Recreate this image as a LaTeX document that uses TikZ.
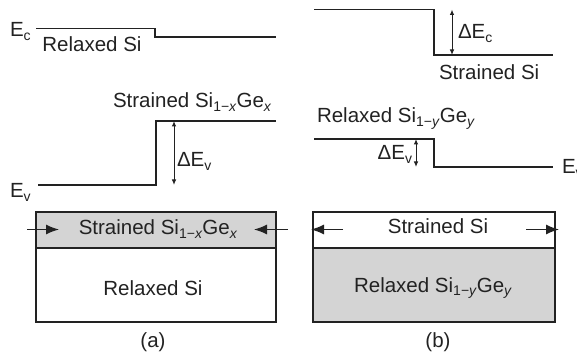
\documentclass[tikz,border=0pt]{standalone}
\usepackage{fontspec}
\setmainfont{Liberation Sans}
\usetikzlibrary{arrows.meta}
\definecolor{layergray}{HTML}{D4D4D4}
\definecolor{ink}{HTML}{222222}
\newcommand\lowsub[1]{\raisebox{-0.35ex}{\fontsize{14}{14}\selectfont #1}}
\begin{document}
\begin{tikzpicture}[x=1pt,y=-1pt,
  every node/.style={inner sep=0pt,outer sep=0pt,text=ink},
  font=\fontsize{20.5}{24}\selectfont,
  band/.style={draw=ink,line width=1.3pt},
  gap/.style={draw=ink,line width=1pt,{Latex[length=5.5pt,width=4.5pt]}-{Latex[length=5.5pt,width=4.5pt]}},
  strain/.style={draw=ink,line width=1.3pt,-{Latex[length=13pt,width=10pt]}},
  layer/.style={draw=ink,line width=1.3pt}]
\useasboundingbox (0,0) rectangle (577,352);

% ---------- (a) band edges ----------
\draw[band] (36,28.5) -- (155,28.5) -- (155,37) -- (276,37);
\draw[band] (38,185) -- (156,185) -- (156,121) -- (276,121);
\coordinate (avt) at (174,121);
\coordinate (avb) at (174,185);
\draw[gap] (avt) -- (avb);
\node[anchor=base west] (ec) at (10,37) {E\lowsub{c}};
\node[anchor=base west] (ev) at (10,198) {E\lowsub{v}};
\node[anchor=base] (relA) at (92,52) {Relaxed Si};
\node[anchor=base west] (strA) at (113,108) {Strained Si\lowsub{1−\textit{x}}Ge\lowsub{\textit{x}}};
\node[anchor=base west] (dEvA) at (177,167) {ΔE\lowsub{v}};

% ---------- (b) band edges ----------
\draw[band] (314,9.5) -- (434,9.5) -- (434,55) -- (553,55);
\draw[band] (314,139) -- (434,139) -- (434,167) -- (553,167);
\coordinate (bct) at (452,9.5);
\coordinate (bcb) at (452,55);
\draw[gap] (bct) -- (bcb);
\coordinate (bvt) at (416,139);
\coordinate (bvb) at (416,167);
\draw[gap] (bvt) -- (bvb);
\node[anchor=base west] (dEcB) at (458,39) {ΔE\lowsub{c}};
\node[anchor=base west] (strB) at (439,80) {Strained Si};
\node[anchor=base west] (relB) at (317,123) {Relaxed Si\lowsub{1−\textit{y}}Ge\lowsub{\textit{y}}};
\node[anchor=base east] (dEvB) at (412,160) {ΔE\lowsub{v}};
\node[anchor=base west] (evB) at (562,174) {E\lowsub{v}};

% ---------- (a) layer stack ----------
\fill[layergray] (36,212) rectangle (276,248);
\draw[layer] (36,212) rectangle (276,322);
\draw[layer] (36,248) -- (276,248);
\node[anchor=base] (stackA1) at (158,235) {Strained Si\lowsub{1−\textit{x}}Ge\lowsub{\textit{x}}};
\node[anchor=base] (stackA2) at (153,295) {Relaxed Si};
\node[anchor=base] (capA) at (153,347) {(a)};
\coordinate (aLt) at (27,229.5);
\coordinate (aLh) at (59,229.5);
\coordinate (aRt) at (288,229.5);
\coordinate (aRh) at (254,229.5);
\draw[strain] (aLt) -- (aLh);
\draw[strain] (aRt) -- (aRh);

% ---------- (b) layer stack ----------
\fill[layergray] (313,248) rectangle (555,322);
\draw[layer] (313,212) rectangle (555,322);
\draw[layer] (313,248) -- (555,248);
\node[anchor=base] (stackB1) at (438,234) {Strained Si};
\node[anchor=base] (stackB2) at (433,292) {Relaxed Si\lowsub{1−\textit{y}}Ge\lowsub{\textit{y}}};
\node[anchor=base] (capB) at (438,347) {(b)};
\coordinate (bLt) at (343,229.5);
\coordinate (bLh) at (311,229.5);
\coordinate (bRt) at (526,229.5);
\coordinate (bRh) at (559,229.5);
\draw[strain] (bLt) -- (bLh);
\draw[strain] (bRt) -- (bRh);
\end{tikzpicture}
\end{document}
